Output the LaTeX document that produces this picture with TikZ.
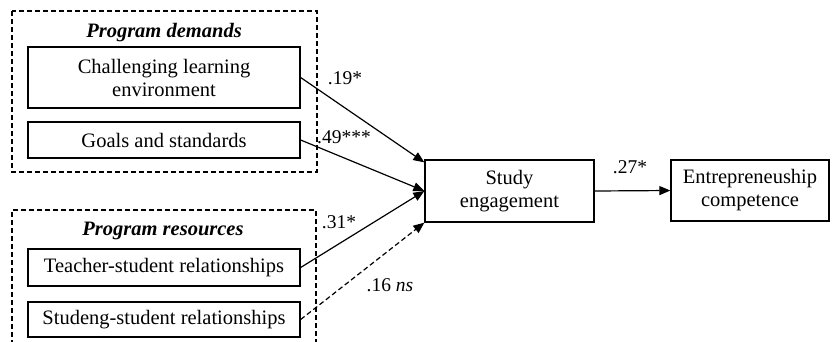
\documentclass[tikz,border=0pt]{standalone}
\usepackage{fontspec}
\setmainfont{Liberation Serif}
\usetikzlibrary{arrows.meta,calc}
\begin{document}
\begin{tikzpicture}[x=1pt,y=-1pt,
  box/.style={draw,line width=1.3pt,inner sep=0pt,align=center,font=\fontsize{20.5}{23}\selectfont},
  group/.style={draw,dashed,line width=1.1pt,dash pattern=on 5pt off 3pt},
  title/.style={font=\fontsize{20.5}{23}\selectfont\bfseries\itshape,inner sep=0pt},
  lbl/.style={font=\fontsize{19.5}{22}\selectfont,inner sep=0pt},
  arr/.style={line width=1.2pt,-{Triangle[length=11pt,width=9pt]}},
  darr/.style={arr,dashed,dash pattern=on 5pt off 3pt}]
\useasboundingbox (0,0) rectangle (832,341);
% groups
\draw[group] (12,11) rectangle (317,172);
\draw[group] (12,345) -- (12,210) -- (316,210) -- (316,345);
\node[title] (t1) at (164,33) {Program demands};
\node[title] (t2) at (163,231) {Program resources};
% boxes
\node[box,minimum width=272pt,minimum height=61pt] (cle) at (164,77.5) {Challenging learning\\environment};
\node[box,minimum width=272pt,minimum height=36pt] (gs) at (164,140) {Goals and standards};
\node[box,minimum width=272pt,minimum height=37pt] (tsr) at (164,267.5) {Teacher-student relationships};
\node[box,minimum width=272pt,minimum height=35pt] (ssr) at (164,319.5) {Studeng-student relationships};
\node[box,minimum width=169pt,minimum height=62pt] (se) at (509.5,191) {Study\\engagement};
\node[box,minimum width=158pt,minimum height=61pt] (ec) at (750,190.5) {Entrepreneuship\\competence};
% arrows
\draw[arr] (cle.east) -- ($(se.north west)+(0,3)$);
\draw[arr] (gs.east) -- (se.west);
\draw[arr] (tsr.east) -- (se.west);
\draw[darr] (ssr.east) -- (se.south west);
\draw[arr] (se.east) -- (ec.west);
% labels
\node[lbl] (l1) at (345,78) {.19*};
\node[lbl] (l2) at (344,137) {.49***};
\node[lbl] (l3) at (339,222) {.31*};
\node[lbl] (l4) at (390,285) {.16 \textit{ns}};
\node[lbl] (l5) at (630,167) {.27*};
\end{tikzpicture}
\end{document}
